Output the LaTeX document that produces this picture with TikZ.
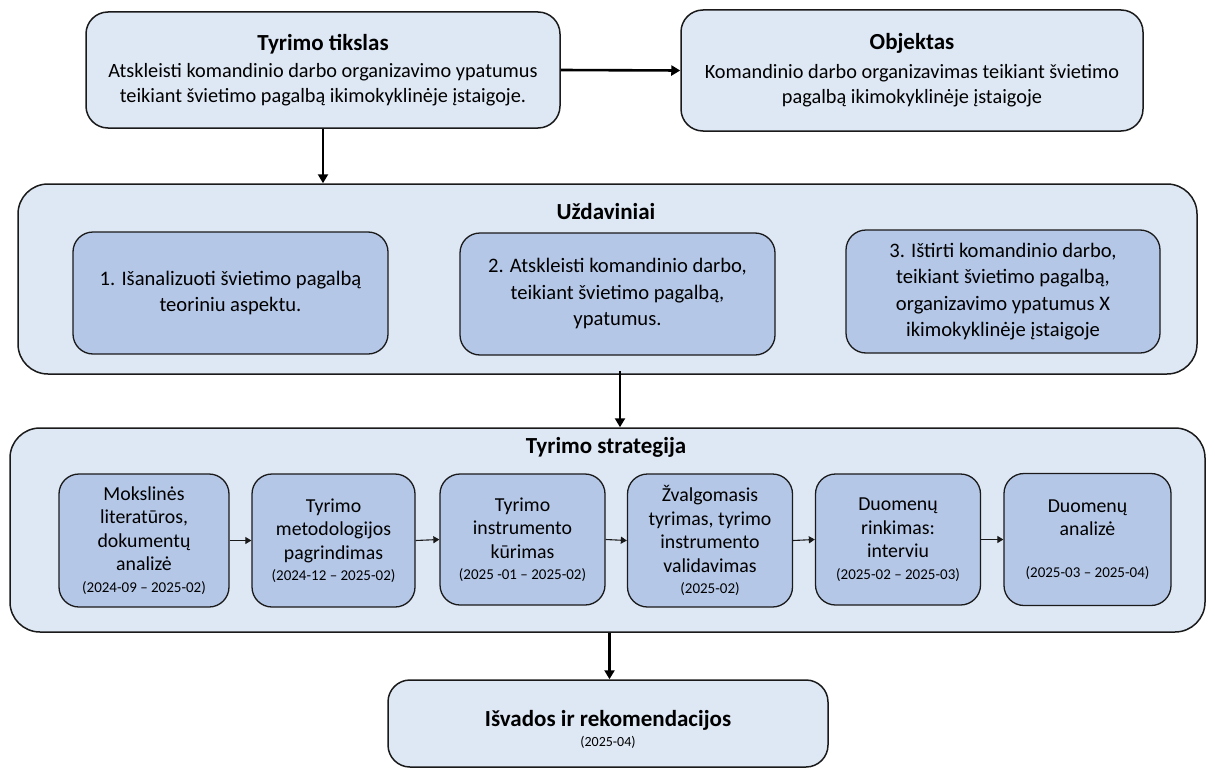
\documentclass[tikz,border=0pt]{standalone}
\usepackage{fontspec}
\setmainfont{Carlito}
\usetikzlibrary{arrows.meta}
\definecolor{outerfill}{HTML}{DEE8F5}
\definecolor{innerfill}{HTML}{B4C7E7}
\definecolor{edge}{HTML}{1A1A1A}
\tikzset{
  panel/.style={draw=edge, line width=1.5pt, fill=outerfill, rounded corners=22pt,
    align=center, inner sep=0pt},
  card/.style={draw=edge, line width=1.3pt, fill=innerfill, rounded corners=20pt,
    align=center, inner sep=0pt},
  bigarrow/.style={draw=black, line width=2.6pt, -{Triangle[length=9pt,width=10pt]}},
  smallarrow/.style={draw=edge, line width=1.1pt, -{Triangle[length=6pt,width=7pt]}},
  heading/.style={font=\bfseries\fontsize{23}{28}\selectfont},
  goaltext/.style={font=\fontsize{20.3}{25}\selectfont},
  tasktext/.style={font=\fontsize{20.6}{26.5}\selectfont},
  steptext/.style={font=\fontsize{19.8}{23.5}\selectfont},
}
\newcommand{\ttl}{\bfseries\fontsize{23}{28}\selectfont}
\newcommand{\dte}{\fontsize{15}{18}\selectfont}
\begin{document}
\begin{tikzpicture}[x=1pt,y=-1pt]
\useasboundingbox (0,0) rectangle (1215,768);

% goal and object
\node[panel, goaltext, minimum width=474pt, minimum height=116pt] (tik) at (323,70)
  {{\ttl Tyrimo tikslas}\\[2pt]
   Atskleisti komandinio darbo organizavimo ypatumus\\
   teikiant švietimo pagalbą ikimokyklinėje įstaigoje.};
\node[panel, goaltext, minimum width=462pt, minimum height=121pt] (obj) at (912,70.5)
  {{\ttl Objektas}\\[4pt]
   Komandinio darbo organizavimas teikiant švietimo\\
   pagalbą ikimokyklinėje įstaigoje};

% tasks
\node[panel, rounded corners=30pt, minimum width=1179pt, minimum height=190pt] (uzd) at (607.5,279) {};
\node[heading] (uzdt) at (606,212) {Uždaviniai};
\node[card, tasktext, minimum width=315pt, minimum height=122pt] (u1) at (230.5,293)
  {1. Išanalizuoti švietimo pagalbą\\ teoriniu aspektu.};
\node[card, tasktext, minimum width=315pt, minimum height=122pt] (u2) at (617.5,294)
  {2. Atskleisti komandinio darbo,\\ teikiant švietimo pagalbą,\\ ypatumus.};
\node[card, tasktext, minimum width=314pt, minimum height=123pt] (u3) at (1003,291.5)
  {3. Ištirti komandinio darbo,\\ teikiant švietimo pagalbą,\\ organizavimo ypatumus X\\ ikimokyklinėje įstaigoje};

% research strategy
\node[panel, rounded corners=30pt, minimum width=1195pt, minimum height=204pt] (str) at (607.5,530) {};
\node[heading] (strt) at (606,447) {Tyrimo strategija};
\node[card, steptext, minimum width=170pt, minimum height=133pt] (s1) at (144,540.5)
  {Mokslinės\\ literatūros,\\ dokumentų\\ analizė\\[-2pt] {\dte (2024-09 – 2025-02)}};
\node[card, steptext, minimum width=163pt, minimum height=133pt] (s2) at (333.5,540.5)
  {Tyrimo\\ metodologijos\\ pagrindimas\\[-2pt] {\dte (2024-12 – 2025-02)}};
\node[card, steptext, minimum width=165pt, minimum height=131pt] (s3) at (522.5,539.5)
  {Tyrimo\\ instrumento\\ kūrimas\\[-2pt] {\dte (2025 -01 – 2025-02)}};
\node[card, steptext, minimum width=165pt, minimum height=133pt] (s4) at (710,540.5)
  {Žvalgomasis\\ tyrimas, tyrimo\\ instrumento\\ validavimas\\[-2pt] {\dte (2025-02)}};
\node[card, steptext, minimum width=165pt, minimum height=131pt] (s5) at (898,539.5)
  {Duomenų\\ rinkimas:\\ interviu\\[-2pt] {\dte (2025-02 – 2025-03)}};
\node[card, steptext, minimum width=167pt, minimum height=132pt] (s6) at (1087.5,539.5)
  {Duomenų\\ analizė\\[18pt] {\dte (2025-03 – 2025-04)}};

% conclusions
\node[panel, font=\ttl, minimum width=440pt, minimum height=87pt] (isv) at (608,723.5)
  {\rule{0pt}{27pt}Išvados ir rekomendacijos\\[-8pt]
   {\mdseries\fontsize{14}{17}\selectfont (2025-04)}};

% connectors
\draw[bigarrow] (tik.east) -- (obj.west);
\draw[bigarrow] (tik.south) -- (tik.south |- uzd.north);
\draw[bigarrow] ([xshift=12.5pt,yshift=4pt]uzd.south) -- ([xshift=12.5pt]str.north);
\draw[bigarrow] ([xshift=2pt]str.south) -- ([xshift=1.5pt]isv.north);
\draw[smallarrow] (s1.east) -- (s2.west);
\draw[smallarrow] (s2.east) -- (s3.west);
\draw[smallarrow] (s3.east) -- (s4.west);
\draw[smallarrow] (s4.east) -- (s5.west);
\draw[smallarrow] (s5.east) -- (s6.west);
\end{tikzpicture}
\end{document}
